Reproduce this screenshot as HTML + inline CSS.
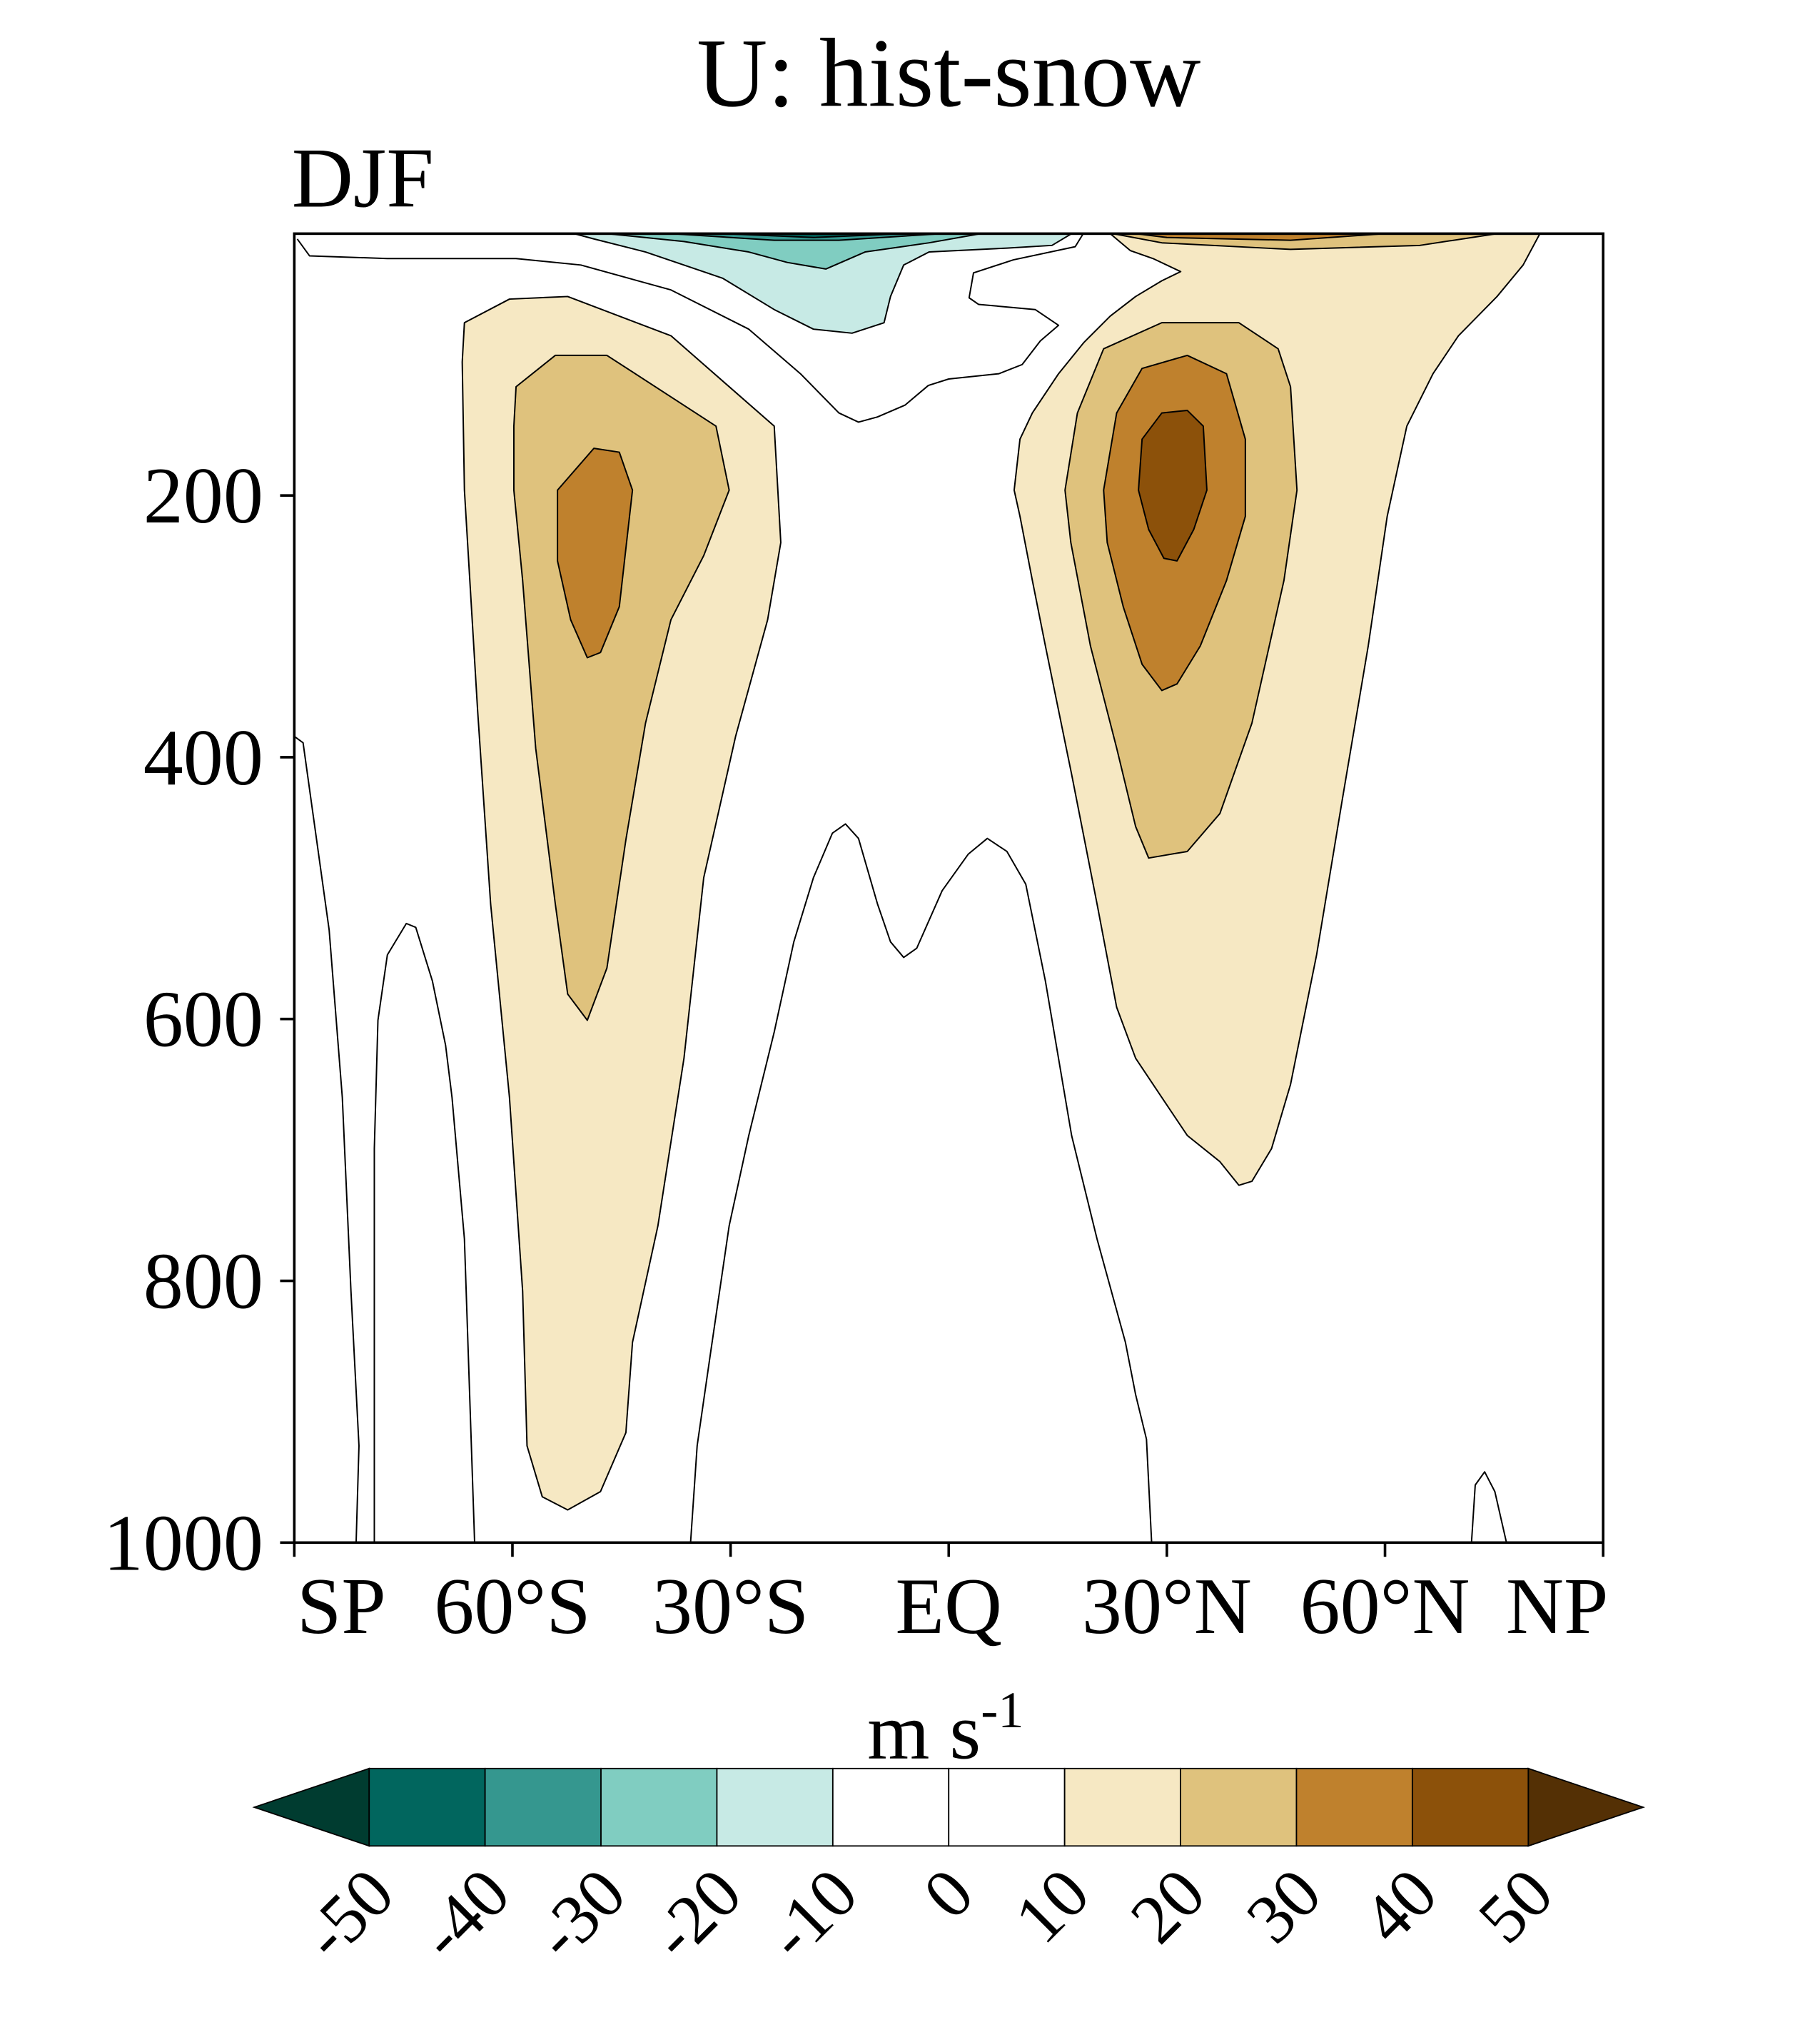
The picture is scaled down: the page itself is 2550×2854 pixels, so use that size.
<!DOCTYPE html>
<html><head><meta charset="utf-8">
<style>
html,body{margin:0;padding:0;background:#fff;}
svg{display:block;font-family:"Liberation Serif",serif;}
</style></head>
<body>
<svg id="chart" width="2550" height="2854" viewBox="0 0 1410 1578" preserveAspectRatio="none" xmlns="http://www.w3.org/2000/svg">
<text x="735" y="82" font-size="76" text-anchor="middle">U: hist-snow</text>
<text x="226" y="160" font-size="66">DJF</text>
<g id="fills"></g>
<g id="lines"></g>
<rect x="228" y="181" width="1014" height="1014" fill="none" stroke="#000" stroke-width="2"/>
<g id="axes"></g>
<g id="cbar"></g>
<text x="672" y="1362" font-size="62">m s<tspan font-size="40" dy="-24">-1</tspan></text>
</svg>
<script>
const yTicks=[200,400,600,800,1000];
const xTickLats=[-90,-60,-30,0,30,60,90];
const xTickLabels=["SP","60°S","30°S","EQ","30°N","60°N","NP"];
const cbLevels=[-50,-40,-30,-20,-10,0,10,20,30,40,50];
const cbColors=["#01665e","#35978f","#80cdc1","#c7eae5","#ffffff","#ffffff","#f6e8c3","#dfc27d","#bf812d","#8c510a"];
const sh10=[[-66.6,68],[-60.4,50],[-52.4,48],[-38.2,78],[-24.0,147],[-23.1,236],[-24.9,295],[-29.3,384],[-33.7,492],[-36.4,630],[-40.0,758],[-43.5,847],[-44.4,916],[-47.9,961],[-52.4,975],[-55.9,965],[-58.0,926],[-58.6,808],[-60.4,660],[-63.0,512],[-64.8,364],[-66.6,196],[-66.9,98]];
const sh20=[[-59.5,117],[-54.1,93],[-47.0,93],[-32.0,147],[-30.2,196],[-33.7,246],[-38.2,295],[-41.7,374],[-44.4,463],[-47.0,561],[-49.7,601],[-52.4,581],[-54.1,512],[-56.8,393],[-58.6,265],[-59.8,196],[-59.8,147]];
const sh30=[[-53.8,196],[-48.8,164],[-45.3,167],[-43.5,196],[-45.3,285],[-47.9,320],[-49.7,324],[-52.0,295],[-53.8,250]];
const nh10=[[22.2,0],[81.3,0],[79.0,24],[75.4,48],[70.1,78],[66.6,107],[63.0,147],[60.3,216],[57.7,315],[54.1,433],[50.6,551],[47.0,650],[44.4,699],[41.7,724],[39.9,727],[37.3,709],[32.8,689],[29.3,660],[25.7,630],[23.1,591],[20.4,512],[16.9,413],[13.3,315],[11.5,265],[9.8,216],[9.0,196],[9.8,157],[11.5,137],[15.1,107],[18.6,83],[22.2,63],[25.7,48],[29.3,36],[31.9,29],[28.1,19],[25.0,13]];
const nh20=[[16.0,196],[17.7,137],[21.3,88],[29.3,68],[39.9,68],[45.3,88],[47.0,117],[47.9,196],[46.1,265],[41.7,374],[37.3,443],[32.8,472],[27.5,477],[25.7,453],[23.1,393],[19.5,315],[16.8,236]];
const nh30=[[21.3,196],[23.1,137],[26.6,103],[32.8,93],[38.2,107],[40.8,157],[40.8,216],[38.2,265],[34.6,315],[31.4,344],[29.3,349],[26.6,329],[24.0,285],[21.8,236]];
const nh40=[[26.1,196],[26.6,157],[29.3,137],[32.8,135],[35.0,147],[35.5,196],[33.7,226],[31.4,250],[29.6,248],[27.5,226]];
const top20=[[22.6,0],[75.4,0],[64.8,9],[47.0,12],[29.3,7]];
const top30=[[25.7,0],[60.0,0],[47.0,5],[30.0,3]];
const tm10=[[-51.5,0],[16.9,0],[14.2,9],[8.0,11],[-2.7,14],[-6.2,24],[-8.0,48],[-8.9,68],[-13.3,76],[-18.6,73],[-24.0,58],[-31.1,34],[-41.7,14],[-48.8,4]];
const tm20=[[-47,0],[4.4,0],[-2.7,7],[-11.5,14],[-16.9,27],[-22.2,22],[-27.5,14],[-36.4,6]];
const tm30=[[-38.2,0],[-0.9,0],[-15.1,5],[-24,5]];
const tm40=[[-31,0],[-6.2,0],[-18.6,3]];
const zeroTop=[[-89.6,4],[-87.9,17],[-77.2,19],[-59.5,19],[-50.6,24],[-38.2,43],[-27.5,73],[-20.4,107],[-15.1,137],[-12.4,144],[-9.8,140],[-6.0,131],[-2.8,116],[0,111],[6.9,107],[10.1,100],[12.6,82],[15.1,70],[11.9,58],[4.1,54],[2.8,49],[3.4,30],[8.9,20],[17.4,10],[18.5,0]];
const zeroA=[[-90,384],[-88.8,389],[-85.2,532],[-83.4,660],[-82.2,808],[-81.1,926],[-81.5,1000]];
const zeroB=[[-79,1000],[-79,699],[-78.5,601],[-77.2,551],[-74.6,527],[-73.3,530],[-71,571],[-69.2,620],[-68.3,660],[-66.6,768],[-65.2,1000]];
const zeroC=[[-35.5,1000],[-34.6,926],[-32.8,857],[-30.2,758],[-27.5,689],[-24,610],[-21.3,541],[-18.6,492],[-16,458],[-14.2,451],[-12.4,462],[-9.8,512],[-8,541],[-6.2,553],[-4.4,546],[-0.9,502],[2.7,474],[5.3,462],[8,472],[10.6,497],[13.3,571],[16.9,689],[20.4,768],[24.3,847],[25.7,887],[27.2,921],[27.9,1000]];
const zeroD=[[71.9,1000],[72.4,956],[73.7,946],[75.1,961],[76.7,1000]];

const NS="http://www.w3.org/2000/svg";
const X0=228,X1=1242,Y0=181,Y1=1195;
function xOf(lat){return X0+(lat+90)/180*(X1-X0);}
function yOf(p){return Y0+p/1000*(Y1-Y0);}
function mk(tag,attrs,parent){const e=document.createElementNS(NS,tag);for(const k in attrs)e.setAttribute(k,attrs[k]);parent.appendChild(e);return e;}
function pts(arr){return arr.map(d=>xOf(d[0]).toFixed(1)+","+yOf(d[1]).toFixed(1)).join(" ");}
const fills=document.getElementById('fills');
function poly(arr,color,name){
  const e=mk('polygon',{points:pts(arr),fill:color,stroke:'#000','stroke-width':1.1,'stroke-linejoin':'round'},fills);
  
  
}
poly(sh10,cbColors[6],'sh-jet-10');
poly(sh20,cbColors[7],'sh-jet-20');
poly(sh30,cbColors[8],'sh-jet-30');
poly(nh10,cbColors[6],'nh-jet-10');
poly(top20,cbColors[7],'nh-top-20');
poly(top30,cbColors[8],'nh-top-30');
poly(nh20,cbColors[7],'nh-jet-20');
poly(nh30,cbColors[8],'nh-jet-30');
poly(nh40,cbColors[9],'nh-jet-40');
poly(tm10,cbColors[3],'easterly-minus-10');
poly(tm20,cbColors[2],'easterly-minus-20');
poly(tm30,cbColors[1],'easterly-minus-30');
poly(tm40,cbColors[0],'easterly-minus-40');
const lines=document.getElementById('lines');
[[zeroTop,'zero-contour-top'],[zeroA,'zero-contour-a'],[zeroB,'zero-contour-b'],[zeroC,'zero-contour-c'],[zeroD,'zero-contour-d']].forEach(([a,n])=>{
  const e=mk('polyline',{points:pts(a),fill:'none',stroke:'#000','stroke-width':1.1,'stroke-linejoin':'round'},lines);
  
  
});
const axes=document.getElementById('axes');
yTicks.forEach(p=>{
  const y=yOf(p);
  const t=mk('line',{x1:X0-11,x2:X0,y1:y,y2:y,stroke:'#000','stroke-width':2},axes);
  
  
  const l=mk('text',{x:X0-24,y:y+21,'font-size':62,'text-anchor':'end'},axes);
  l.textContent=p;
  
  
});
xTickLats.forEach((lat,i)=>{
  const x=xOf(lat);
  const t=mk('line',{x1:x,x2:x,y1:Y1,y2:Y1+11,stroke:'#000','stroke-width':2},axes);
  
  
  const anchor=i===0?'start':(i===xTickLats.length-1?'end':'middle');
  const l=mk('text',{x:i===0?x+2:(i===xTickLats.length-1?x+4:x),y:1265,'font-size':62,'text-anchor':anchor},axes);
  l.textContent=xTickLabels[i];
  
  
});
const cb=document.getElementById('cbar');
const CB0=286,CB1=1184,CBT=1370,CBB=1430;
const bw=(CB1-CB0)/cbColors.length;
const lt=mk('polygon',{points:`197,1400 ${CB0},${CBT} ${CB0},${CBB}`,fill:'#003c30',stroke:'#000','stroke-width':1},cb);


const rt=mk('polygon',{points:`1273,1400 ${CB1},${CBT} ${CB1},${CBB}`,fill:'#543005',stroke:'#000','stroke-width':1},cb);


cbColors.forEach((c,i)=>{
  const r=mk('rect',{x:CB0+i*bw,y:CBT,width:bw,height:CBB-CBT,fill:c,stroke:'#000','stroke-width':1},cb);
  
  
});
cbLevels.forEach((v,i)=>{
  const x=CB0+i*bw;
  const l=mk('text',{x:x+22,y:1470,'font-size':54,'text-anchor':'end',transform:`rotate(-45 ${x+22} 1470)`},cb);
  l.textContent=v;
  
  
});
</script>
</body></html>
